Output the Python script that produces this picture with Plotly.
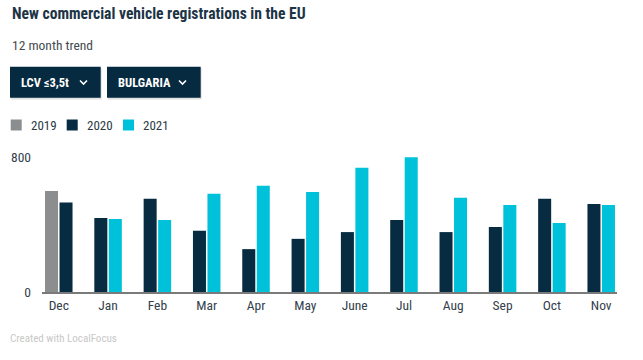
import plotly.graph_objects as go

months = ["Dec", "Jan", "Feb", "Mar", "Apr", "May", "June", "Jul", "Aug", "Sep", "Oct", "Nov"]
series_names = ["2019", "2020", "2021"]
months_2019 = ["Dec"]
values_2019 = [599]
months_2020 = months
values_2020 = [530, 439, 552, 363, 254, 315, 355, 427, 355, 385, 552, 522]
months_2021 = months[1:]
values_2021 = [433, 427, 582, 629, 593, 736, 798, 558, 516, 409, 516]
y_ticks = [0, 800]
y_tick_labels = ["0", "800"]

colors = {"2019": "#8b8d8f", "2020": "#072b40", "2021": "#00c1da"}
FONT = "Roboto Condensed, Liberation Sans Narrow, DejaVu Sans Condensed, Roboto, sans-serif"

BW = 0.264
GAP = 0.03

series = [("2019", months_2019, values_2019), ("2020", months_2020, values_2020), ("2021", months_2021, values_2021)]

present = {m: [] for m in months}
for name, ms, vs in series:
    for m in ms:
        present[m].append(name)

fig = go.Figure()
for name, ms, vs in series:
    offs = []
    for m in ms:
        idx = present[m].index(name)
        offs.append(-BW - GAP / 2 if idx == 0 else GAP / 2)
    fig.add_trace(go.Bar(
        x=ms, y=vs, name=name, width=BW, offset=offs,
        marker=dict(color=colors[name], line=dict(width=0)),
        showlegend=False, hoverinfo="x+y+name",
    ))

W, H = 643, 360
ML, MR, MT, MB = 42, 26, 157, 68

fig.update_layout(
    width=W, height=H,
    margin=dict(l=ML, r=MR, t=MT, b=MB),
    paper_bgcolor="white", plot_bgcolor="white",
    barmode="overlay",
    font=dict(family=FONT, color="#2b3a44", size=13),
    xaxis=dict(
        type="category", categoryorder="array", categoryarray=months,
        range=[-0.34, 11.32], showgrid=False, zeroline=False,
        showline=True, linecolor="#7a7a7a", linewidth=2,
        ticks="", tickfont=dict(size=13.5, color="#33414b", family=FONT),
        fixedrange=True,
    ),
    yaxis=dict(
        range=[0, 800], tickvals=y_ticks, ticktext=y_tick_labels,
        showgrid=True, gridcolor="#ececec", gridwidth=1.5, zeroline=False,
        showline=False, ticks="", ticklabelstandoff=10,
        tickfont=dict(size=13.5, color="#33414b", family=FONT),
        fixedrange=True,
    ),
    showlegend=False,
)

def pxx(x):
    return (x - ML) / (W - ML - MR)
def pyy(y):
    return (H - MB - y) / (H - MT - MB)

annots = [
    dict(text="<b>New commercial vehicle registrations in the EU</b>", x=10, y=14, size=15.6, color="#1d3446"),
    dict(text="12 month trend", x=10, y=45, size=13.5, color="#444b50"),
    dict(text="Created with LocalFocus", x=8, y=338, size=11, color="#c8c8c8"),
]
for a in annots:
    fig.add_annotation(text=a["text"], xref="paper", yref="paper",
                       x=pxx(a["x"]), y=pyy(a["y"]),
                       xanchor="left", yanchor="middle", showarrow=False,
                       font=dict(size=a["size"], color=a["color"], family=FONT))

# Buttons
buttons = [("LCV ≤3,5t", 10, 100.7, 19, 80), ("BULGARIA", 107, 200.7, 116, 179)]
for label, x0, x1, tx, cx in buttons:
    fig.add_shape(type="rect", xref="paper", yref="paper",
                  x0=pxx(x0 + 1), x1=pxx(x1 + 1), y0=pyy(99.5), y1=pyy(68),
                  fillcolor="rgba(0,0,0,0.12)", line=dict(width=0), layer="above")
    fig.add_shape(type="rect", xref="paper", yref="paper",
                  x0=pxx(x0), x1=pxx(x1), y0=pyy(97.7), y1=pyy(66.7),
                  fillcolor="#062a40", line=dict(width=0), layer="above")
    fig.add_annotation(text=f"<b>{label}</b>", xref="paper", yref="paper",
                       x=pxx(tx), y=pyy(82), xanchor="left", yanchor="middle",
                       showarrow=False, font=dict(size=12.5, color="white", family=FONT))
    fig.add_shape(type="path", xref="paper", yref="paper",
                  path=f"M {pxx(cx)},{pyy(80.5)} L {pxx(cx + 3.5)},{pyy(84)} L {pxx(cx + 7)},{pyy(80.5)}",
                  line=dict(color="white", width=1.6), layer="above")

# Legend (manual)
leg_x = [10.7, 66.7, 123]
for name, lx in zip(series_names, leg_x):
    fig.add_shape(type="rect", xref="paper", yref="paper",
                  x0=pxx(lx), x1=pxx(lx + 11), y0=pyy(130.5), y1=pyy(119.5),
                  fillcolor=colors[name], line=dict(width=0), layer="above")
    fig.add_annotation(text=name, xref="paper", yref="paper",
                       x=pxx(lx + 18), y=pyy(125), xanchor="left", yanchor="middle",
                       showarrow=False, font=dict(size=13, color="#2b3a44", family=FONT))

fig.write_html("out.html", config={"displayModeBar": False},
               post_script="document.body.style.margin='0';document.body.style.overflow='hidden';")
